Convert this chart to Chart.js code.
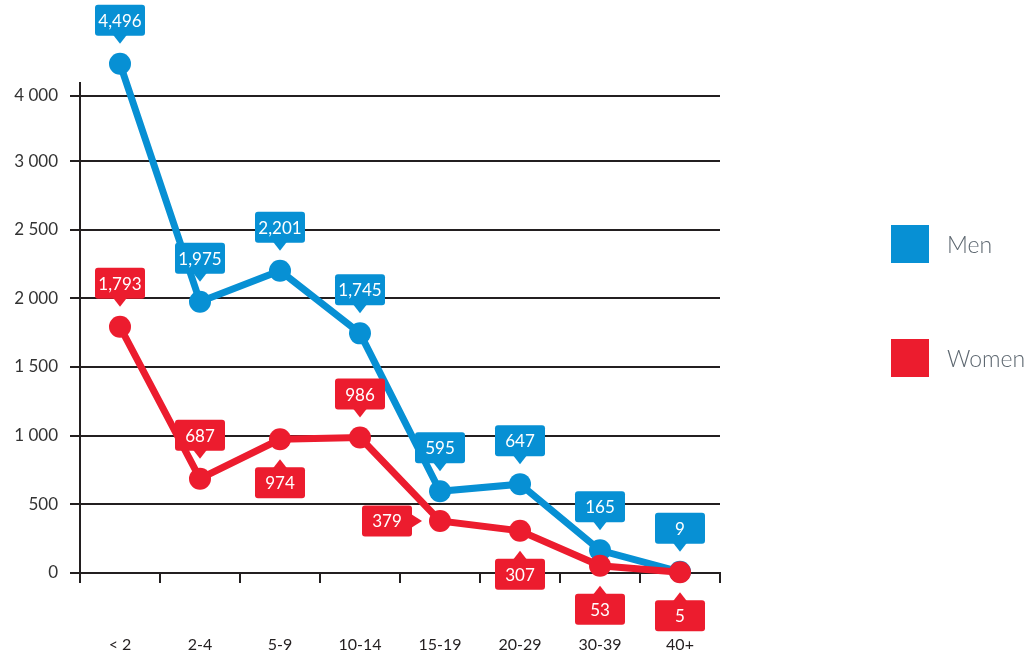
<!DOCTYPE html>
<html>
<head>
<meta charset="utf-8">
<script src="https://cdn.jsdelivr.net/npm/chart.js@4"></script>
<style>
  html, body { margin: 0; padding: 0; background: #fff; }
  #wrap { position: relative; width: 1032px; height: 655px; }
  #ageChart { display: block; }
  .leg { position: absolute; left: 891px; display: flex; align-items: center;
         font-family: Lato, sans-serif; font-weight: 300; font-size: 23px; color: #5d6770; }
  .leg span.sw { display: inline-block; width: 38px; height: 38px; margin-right: 18px; }
</style>
</head>
<body>
<div id="wrap">
  <canvas id="ageChart" width="1032" height="655"></canvas>
  <div class="leg" style="top:225px"><span class="sw" style="background:#0790d4"></span>Men</div>
  <div class="leg" style="top:339px"><span class="sw" style="background:#ec1c2e"></span>Women</div>
</div>
<script>
const ageGroups = ['< 2', '2-4', '5-9', '10-14', '15-19', '20-29', '30-39', '40+'];
const men = [4496, 1975, 2201, 1745, 595, 647, 165, 9];
const women = [1793, 687, 974, 986, 379, 307, 53, 5];
const yTicks = [0, 500, 1000, 1500, 2000, 2500, 3000, 4000];
// where each women label sits relative to its point
const womenLabelSide = ['top', 'top', 'bottom', 'top', 'left', 'bottom', 'bottom', 'bottom'];

const blue = '#0790d4';
const red = '#ec1c2e';
const ink = '#231f20';

// the printed axis squeezes the 3000-4000 band, so the scale does too
const squeeze = 65 / 137.3;
const squash = v => v <= 3000 ? v : 3000 + (v - 3000) * squeeze;
const unsquash = s => s <= 3000 ? s : 3000 + (s - 3000) / squeeze;
const axisTop = 4215; // vertical axis line stops a bit above the 4 000 grid line

class SquashedScale extends Chart.LinearScale {
  getPixelForValue(value) {
    const lo = squash(this.min), hi = squash(this.max);
    return this.getPixelForDecimal((squash(value) - lo) / (hi - lo));
  }
  getValueForPixel(pixel) {
    const lo = squash(this.min), hi = squash(this.max);
    return unsquash(lo + this.getDecimalForPixel(pixel) * (hi - lo));
  }
}
SquashedScale.id = 'squashed';
SquashedScale.defaults = Chart.LinearScale.defaults;
Chart.register(SquashedScale);

function roundRect(c, x, y, w, h, r) {
  c.beginPath();
  c.moveTo(x + r, y);
  c.arcTo(x + w, y, x + w, y + h, r);
  c.arcTo(x + w, y + h, x, y + h, r);
  c.arcTo(x, y + h, x, y, r);
  c.arcTo(x, y, x + w, y, r);
  c.closePath();
  c.fill();
}

const axisLine = {
  id: 'axisLine',
  beforeDatasetsDraw(chart) {
    const c = chart.ctx, y = chart.scales.y, area = chart.chartArea;
    c.save();
    c.strokeStyle = ink;
    c.lineWidth = 2;
    c.beginPath();
    c.moveTo(area.left, y.getPixelForValue(axisTop));
    c.lineTo(area.left, area.bottom);
    c.stroke();
    c.restore();
  }
};

const calloutPlugin = {
  id: 'callouts',
  afterDatasetsDraw(chart) {
    const c = chart.ctx;
    const bw = 50, bh = 31, gap = 28, tip = 20, half = 7;
    chart.data.datasets.forEach((ds, di) => {
      const meta = chart.getDatasetMeta(di);
      meta.data.forEach((pt, i) => {
        const side = ds.labelSide ? ds.labelSide[i] : 'top';
        const x = pt.x, y = pt.y;
        let bx, by;
        c.save();
        c.fillStyle = ds.borderColor;
        c.beginPath();
        if (side === 'top') {
          bx = x - bw / 2; by = y - gap - bh;
          c.moveTo(x - half, y - gap - 1); c.lineTo(x + half, y - gap - 1); c.lineTo(x, y - tip);
        } else if (side === 'bottom') {
          bx = x - bw / 2; by = y + gap;
          c.moveTo(x - half, y + gap + 1); c.lineTo(x + half, y + gap + 1); c.lineTo(x, y + tip);
        } else {
          bx = x - gap - bw; by = y - bh / 2;
          c.moveTo(x - gap - 1, y - half); c.lineTo(x - gap - 1, y + half); c.lineTo(x - tip + 2, y);
        }
        c.closePath();
        c.fill();
        roundRect(c, bx, by, bw, bh, 3);
        c.fillStyle = '#fff';
        c.font = '17px Lato, sans-serif';
        c.textAlign = 'center';
        c.textBaseline = 'middle';
        c.fillText(ds.data[i].toLocaleString('en-US'), bx + bw / 2, by + bh / 2 + 1);
        c.restore();
      });
    });
  }
};

const ctx = document.getElementById('ageChart').getContext('2d');

new Chart(ctx, {
  type: 'line',
  data: {
    labels: ageGroups,
    datasets: [
      {
        label: 'Men',
        data: men,
        borderColor: blue,
        backgroundColor: blue,
        borderWidth: 7,
        pointRadius: 11,
        pointBorderWidth: 0,
        tension: 0,
        order: 2
      },
      {
        label: 'Women',
        data: women,
        labelSide: womenLabelSide,
        borderColor: red,
        backgroundColor: red,
        borderWidth: 7,
        pointRadius: 11,
        pointBorderWidth: 0,
        tension: 0,
        order: 1
      }
    ]
  },
  options: {
    responsive: false,
    animation: false,
    clip: false,
    layout: {
      padding: { top: 57, right: 312, bottom: 0, left: 0 }
    },
    plugins: {
      legend: { display: false },
      tooltip: { enabled: false }
    },
    scales: {
      x: {
        offset: true,
        afterFit: scale => {
          scale.height = 82;
        },
        grid: {
          offset: true,
          drawOnChartArea: false,
          color: ink,
          lineWidth: 2,
          tickLength: 10
        },
        border: { display: true, color: ink, width: 2 },
        ticks: {
          padding: 52,
          color: ink,
          font: { family: 'Lato, sans-serif', size: 16 }
        }
      },
      y: {
        type: 'squashed',
        min: 0,
        max: 4600,
        afterBuildTicks: scale => {
          scale.ticks = yTicks.map(v => ({ value: v }));
        },
        afterFit: scale => {
          scale.width = 80;
        },
        grid: {
          color: ink,
          lineWidth: 2,
          tickLength: 10
        },
        border: { display: false },
        ticks: {
          padding: 12,
          color: '#333',
          font: { family: 'Lato, sans-serif', size: 17 },
          callback: v => String(v).replace(/\B(?=(\d{3})+(?!\d))/g, ' ')
        }
      }
    }
  },
  plugins: [axisLine, calloutPlugin]
});
</script>
</body>
</html>
